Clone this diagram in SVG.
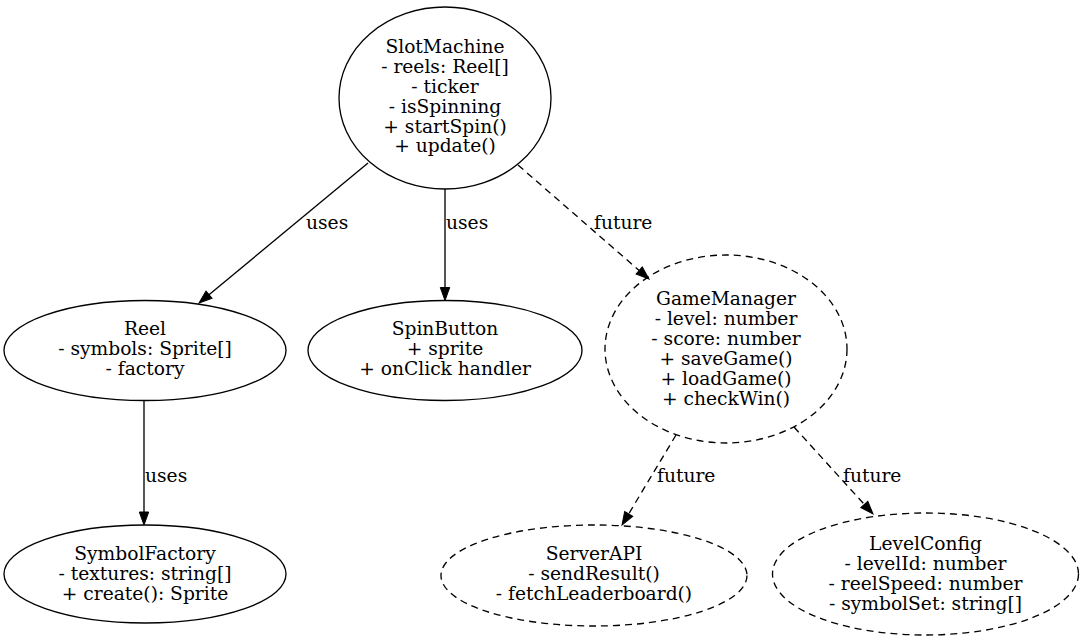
<svg xmlns="http://www.w3.org/2000/svg" width="1085" height="644" viewBox="0 0 1085 644">
<style>
  .node ellipse { fill: none; stroke: #000; stroke-width: 1.33; }
  .dashed ellipse { stroke-dasharray: 7,5; }
  text { font-family: "DejaVu Serif", "Liberation Serif", serif; font-size: 18.67px; fill: #000; }
  .node text { text-anchor: middle; }
  .edge { fill: none; stroke: #000; stroke-width: 1.33; }
  .edge.dash { stroke-dasharray: 7,5; }
</style>
<defs>
  <marker id="arrow" markerUnits="userSpaceOnUse" markerWidth="14" markerHeight="10" refX="0" refY="4.7" orient="auto" overflow="visible">
    <path d="M0,0 L13,4.7 L0,9.4 Z" fill="#000" stroke="#000" stroke-width="1"/>
  </marker>
</defs>
<rect width="1085" height="644" fill="#fff"/>

<g id="connectors">
  <path class="edge" d="M368,163 L209,294.7" marker-end="url(#arrow)"/>
  <text x="306" y="229">uses</text>
  <path class="edge" d="M445,189 L445,287.5" marker-end="url(#arrow)"/>
  <text x="446" y="229">uses</text>
  <path class="edge dash" d="M518,165 L639.2,270.5" marker-end="url(#arrow)"/>
  <text x="594" y="229">future</text>
  <path class="edge" d="M144,400.7 L144,512" marker-end="url(#arrow)"/>
  <text x="145" y="482">uses</text>
  <path class="edge dash" d="M676,435 L628.7,513.9" marker-end="url(#arrow)"/>
  <text x="657" y="482">future</text>
  <path class="edge dash" d="M794,427 L864.3,504.4" marker-end="url(#arrow)"/>
  <text x="843" y="482">future</text>
</g>

<g id="SlotMachine" class="node">
  <ellipse cx="445" cy="98" rx="106" ry="91"/>
  <text x="445" y="53.3">SlotMachine</text>
  <text x="445" y="73.1">- reels: Reel[]</text>
  <text x="445" y="92.9">- ticker</text>
  <text x="445" y="112.7">- isSpinning</text>
  <text x="445" y="132.5">+ startSpin()</text>
  <text x="445" y="152.3">+ update()</text>
</g>

<g id="Reel" class="node">
  <ellipse cx="145" cy="350.5" rx="141" ry="50"/>
  <text x="145" y="335">Reel</text>
  <text x="145" y="355">- symbols: Sprite[]</text>
  <text x="145" y="375">- factory</text>
</g>

<g id="SpinButton" class="node">
  <ellipse cx="445" cy="350.5" rx="137" ry="50"/>
  <text x="445" y="335">SpinButton</text>
  <text x="445" y="355">+ sprite</text>
  <text x="445" y="375">+ onClick handler</text>
</g>

<g id="GameManager" class="node dashed">
  <ellipse cx="726" cy="349" rx="121" ry="94"/>
  <text x="726" y="305">GameManager</text>
  <text x="726" y="325">- level: number</text>
  <text x="726" y="345">- score: number</text>
  <text x="726" y="365">+ saveGame()</text>
  <text x="726" y="385">+ loadGame()</text>
  <text x="726" y="405">+ checkWin()</text>
</g>

<g id="SymbolFactory" class="node">
  <ellipse cx="145" cy="574" rx="141" ry="49"/>
  <text x="145" y="560">SymbolFactory</text>
  <text x="145" y="580">- textures: string[]</text>
  <text x="145" y="600">+ create(): Sprite</text>
</g>

<g id="ServerAPI" class="node dashed">
  <ellipse cx="594" cy="575.5" rx="153" ry="50.5"/>
  <text x="594" y="560">ServerAPI</text>
  <text x="594" y="580">- sendResult()</text>
  <text x="594" y="600">- fetchLeaderboard()</text>
</g>

<g id="LevelConfig" class="node dashed">
  <ellipse cx="925.5" cy="574" rx="153" ry="61"/>
  <text x="925.5" y="550">LevelConfig</text>
  <text x="925.5" y="570">- levelId: number</text>
  <text x="925.5" y="590">- reelSpeed: number</text>
  <text x="925.5" y="610">- symbolSet: string[]</text>
</g>
</svg>
